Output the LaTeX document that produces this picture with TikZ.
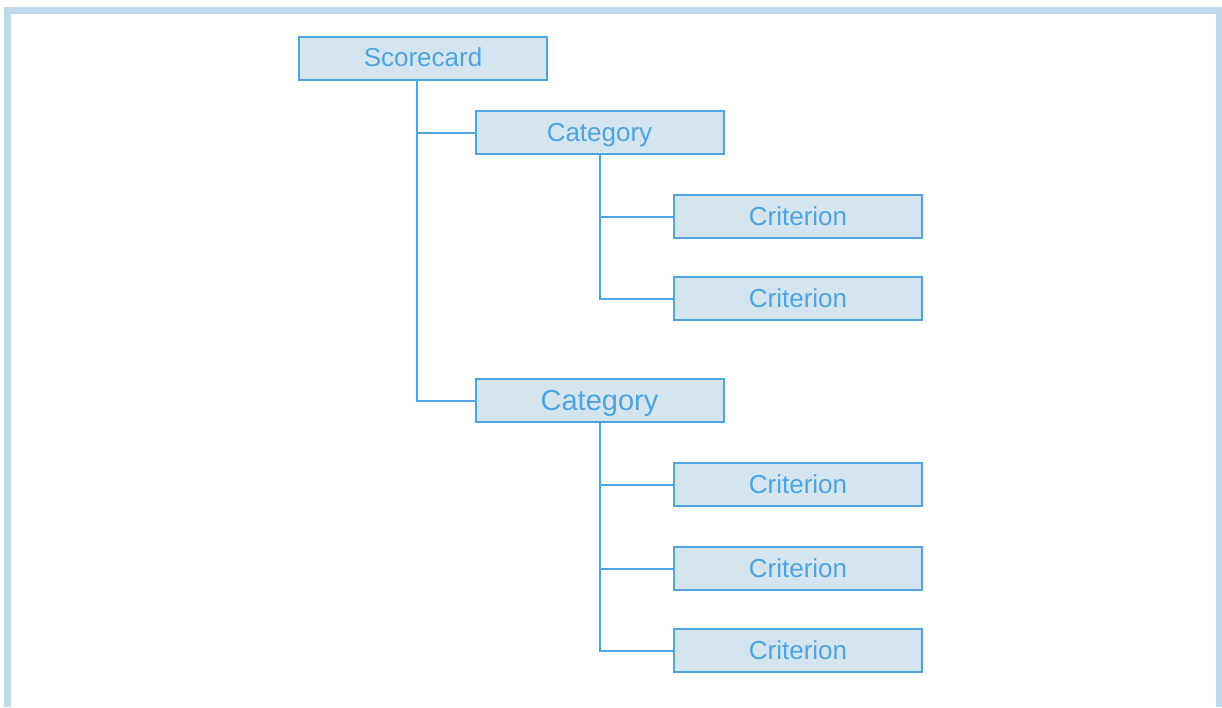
\documentclass[tikz,border=0pt]{standalone}
\usepackage{fontspec}
\setmainfont{Liberation Sans}
\definecolor{framecol}{HTML}{BDD9EA}
\definecolor{boxfill}{HTML}{D4E5F0}
\definecolor{boxline}{HTML}{4DA6E0}
\definecolor{txtcol}{HTML}{4CA5E1}
\tikzset{
  box/.style={draw=boxline, fill=boxfill, line width=2pt, rectangle, inner sep=0pt,
    minimum width=248pt, minimum height=43pt, text=txtcol, text height=17pt, text depth=0pt,
    font=\fontsize{26}{26}\selectfont},
  bigbox/.style={box, text height=19pt, font=\fontsize{29}{29}\selectfont},
  link/.style={draw=boxline, line width=2pt}
}
\begin{document}
\begin{tikzpicture}[x=1pt,y=-1pt]
\useasboundingbox (0,0) rectangle (1222,707);
\fill[white] (0,0) rectangle (1222,707);
\draw[framecol, line width=7pt] (7.5,707) -- (7.5,10.5) -- (1219.5,10.5) -- (1219.5,707);
\node[box] (sc) at (423,58) {Scorecard};
\node[box] (cat1) at (599.5,132.5) {Category};
\node[box] (cr1) at (798,216.5) {Criterion};
\node[box] (cr2) at (798,298.5) {Criterion};
\node[bigbox] (cat2) at (599.5,400.5) {Category};
\node[box] (cr3) at (798,484.5) {Criterion};
\node[box] (cr4) at (798,568.5) {Criterion};
\node[box] (cr5) at (798,650.5) {Criterion};
\coordinate (scb) at ([xshift=-6pt]sc.south);
\draw[link] (scb) |- (cat1.west);
\draw[link] (scb) |- (cat2.west);
\draw[link] (cat1.south) |- (cr1.west);
\draw[link] (cat1.south) |- (cr2.west);
\draw[link] (cat2.south) |- (cr3.west);
\draw[link] (cat2.south) |- (cr4.west);
\draw[link] (cat2.south) |- (cr5.west);
\end{tikzpicture}
\end{document}
